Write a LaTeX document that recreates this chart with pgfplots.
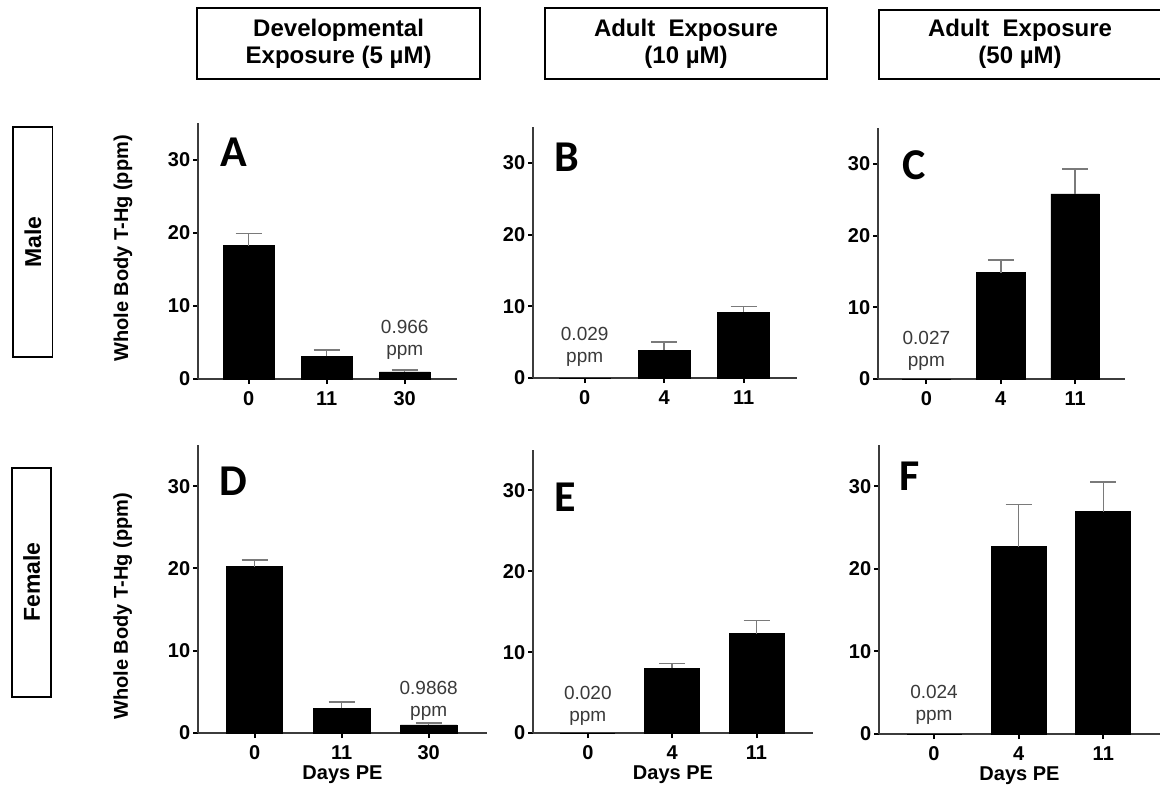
\documentclass[border=0pt]{standalone}
\usepackage{fontspec}
\setmainfont{Liberation Sans}
\newfontfamily\calib{Carlito}
\usepackage{pgfplots}
\pgfplotsset{compat=1.18}
\definecolor{axgray}{HTML}{3C3C3C}
\definecolor{errgray}{HTML}{7A7A7A}
\definecolor{txtgray}{HTML}{3A3A3A}

\tikzset{
  letter/.style={font=\calib\bfseries\fontsize{22}{24}\selectfont, anchor=center},
  note/.style={font=\fontsize{9.5}{11}\selectfont, text=txtgray, align=center, anchor=center},
}
\pgfplotsset{
  panel/.style={
    scale only axis,
    anchor=south west,
    xmin=-0.65, xmax=2.67,
    ymin=0, ymax=35,
    ytick={0,10,20,30},
    xtick={0,1,2},
    axis x line*=bottom,
    axis y line*=left,
    axis line style={-, draw=axgray, line width=0.9pt},
    tick style={draw=black, line width=1pt},
    tick align=outside,
    major tick length=2.5pt,
    /pgf/number format/assume math mode=true,
    ticklabel style={font=\bfseries\fontsize{10}{11}\selectfont},
    xticklabel style={text height=7.4pt, text depth=0pt},
    yticklabel style={inner sep=1.2pt},
    ylabel style={font=\bfseries\fontsize{10}{11}\selectfont, anchor=center},
    xlabel style={font=\bfseries\fontsize{10}{11}\selectfont, at={(rel axis cs:0.5,0)}, anchor=center, yshift=-21pt},
    clip=false,
  },
  bars/.style={
    ybar, bar shift=0pt, bar width=0.65, fill=black, draw=black,
    error bars/.cd, y dir=plus, y explicit,
    error bar style={draw=errgray, line width=0.75pt},
    error mark options={draw=errgray, line width=0.75pt, mark size=6.5pt, rotate=90},
  },
  tinybar/.style={ybar, bar shift=0pt, bar width=0.65, fill=black, draw=none},
}

\begin{document}
\begin{tikzpicture}
\useasboundingbox (0,0) rectangle (580pt,-397pt);

% column headers
\draw[line width=0.8pt] (98.5pt,-4pt) rectangle (240pt,-39.5pt);
\draw[line width=0.8pt] (272.5pt,-4pt) rectangle (413.5pt,-39.5pt);
\draw[line width=0.8pt] (439.5pt,-5pt) rectangle (581pt,-39.5pt);
\node[font=\bfseries\fontsize{12}{13.5}\selectfont, align=center] at (169.3pt,-21.8pt) {Developmental\\Exposure (5 µM)};
\node[font=\bfseries\fontsize{12}{13.5}\selectfont, align=center] at (343pt,-21.8pt) {Adult\ \ Exposure\\(10 µM)};
\node[font=\bfseries\fontsize{12}{13.5}\selectfont, align=center] at (510pt,-21.8pt) {Adult\ \ Exposure\\(50 µM)};

% row labels
\draw[line width=0.8pt] (6.5pt,-63.5pt) rectangle (26.3pt,-178.5pt);
\draw[line width=0.8pt] (6pt,-234pt) rectangle (25.5pt,-348.5pt);
\node[font=\bfseries\fontsize{11.5}{12}\selectfont, rotate=90] at (16.4pt,-121pt) {Male};
\node[font=\bfseries\fontsize{11.5}{12}\selectfont, rotate=90] at (15.8pt,-291pt) {Female};

% ---------- A ----------
\begin{axis}[panel, at={(99pt,-189.5pt)}, width=129.5pt, height=128pt,
  xticklabels={\textbf{0},\textbf{11},\textbf{30}},
  ylabel={Whole Body T-Hg (ppm)}, ylabel style={at={(rel axis cs:-0.29,0.51)}}]
\addplot[bars] coordinates {(0,18.2) +- (0,1.7) (1,3.1) +- (0,0.9) (2,0.966) +- (0,0.3)};
\node[letter] at (axis cs:-0.19,31) {A};
\node[note] at (axis cs:2,5.3) {0.966\\ppm};
\end{axis}

% ---------- B ----------
\begin{axis}[panel, at={(266.5pt,-189pt)}, width=132pt, height=125.5pt,
  xticklabels={\textbf{0},\textbf{4},\textbf{11}}]
\addplot[tinybar] coordinates {(0,0.029)};
\addplot[bars] coordinates {(1,3.9) +- (0,1.1) (2,9.2) +- (0,0.8)};
\node[letter] at (axis cs:-0.22,30.8) {B};
\node[note] at (axis cs:0,4.4) {0.029\\ppm};
\end{axis}

% ---------- C ----------
\begin{axis}[panel, at={(439pt,-189.5pt)}, width=123.5pt, height=125.5pt,
  xticklabels={\textbf{0},\textbf{4},\textbf{11}}]
\addplot[tinybar] coordinates {(0,0.027)};
\addplot[bars] coordinates {(1,14.8) +- (0,1.8) (2,25.8) +- (0,3.5)};
\node[letter] at (axis cs:-0.17,29.8) {C};
\node[note] at (axis cs:0,3.9) {0.027\\ppm};
\end{axis}

% ---------- D ----------
\begin{axis}[panel, at={(99pt,-366.5pt)}, width=144.5pt, height=144pt,
  xticklabels={\textbf{0},\textbf{11},\textbf{30}},
  xlabel={Days PE},
  ylabel={Whole Body T-Hg (ppm)}, ylabel style={at={(rel axis cs:-0.26,0.44)}}]
\addplot[bars] coordinates {(0,20.2) +- (0,0.8) (1,3.0) +- (0,0.75) (2,0.9868) +- (0,0.25)};
\node[letter] at (axis cs:-0.24,30.6) {D};
\node[note] at (axis cs:2,3.9) {0.9868\\ppm};
\end{axis}

% ---------- E ----------
\begin{axis}[panel, at={(266.5pt,-366.5pt)}, width=140pt, height=141.5pt,
  xticklabels={\textbf{0},\textbf{4},\textbf{11}},
  xlabel={Days PE}]
\addplot[tinybar] coordinates {(0,0.020)};
\addplot[bars] coordinates {(1,8.0) +- (0,0.6) (2,12.3) +- (0,1.6)};
\node[letter] at (axis cs:-0.27,29.1) {E};
\node[note] at (axis cs:0,3.4) {0.020\\ppm};
\end{axis}

% ---------- F ----------
\begin{axis}[panel, at={(439.5pt,-367pt)}, width=140.5pt, height=144.5pt,
  xticklabels={\textbf{0},\textbf{4},\textbf{11}},
  xlabel={Days PE}]
\addplot[tinybar] coordinates {(0,0.024)};
\addplot[bars] coordinates {(1,22.7) +- (0,5.1) (2,26.9) +- (0,3.6)};
\node[letter] at (axis cs:-0.29,31.2) {F};
\node[note] at (axis cs:0,3.5) {0.024\\ppm};
\end{axis}
\end{tikzpicture}
\end{document}
